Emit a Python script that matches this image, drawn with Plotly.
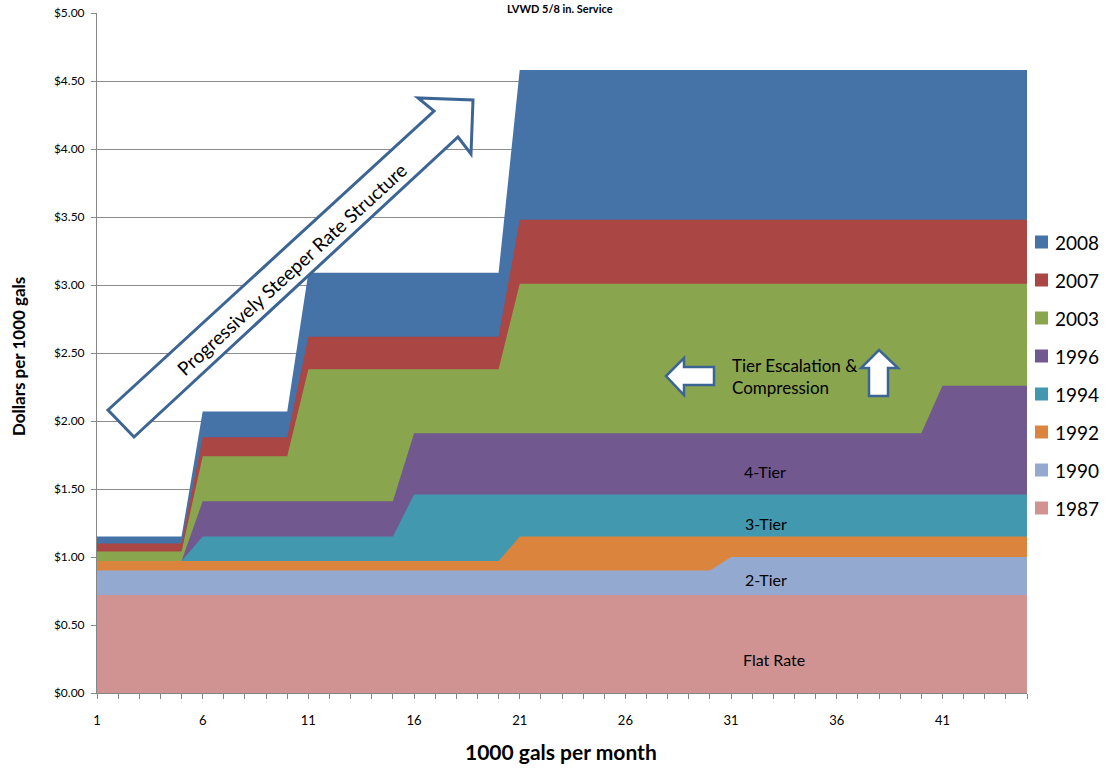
import plotly.graph_objects as go

# Usage in thousands of gallons per month
usage = list(range(1, 46))

# Rate schedules ($ per 1000 gals) by year for each usage step
rates_2008 = [1.15] * 5 + [2.07] * 5 + [3.09] * 10 + [4.58] * 25
rates_2007 = [1.10] * 5 + [1.88] * 5 + [2.62] * 10 + [3.48] * 25
rates_2003 = [1.04] * 5 + [1.74] * 5 + [2.38] * 10 + [3.01] * 25
rates_1996 = [0.97] * 5 + [1.41] * 10 + [1.91] * 25 + [2.26] * 5
rates_1994 = [0.97] * 5 + [1.15] * 10 + [1.46] * 30
rates_1992 = [0.97] * 20 + [1.15] * 25
rates_1990 = [0.90] * 30 + [1.00] * 15
rates_1987 = [0.72] * 45

years = ["2008", "2007", "2003", "1996", "1994", "1992", "1990", "1987"]
series = [rates_2008, rates_2007, rates_2003, rates_1996,
          rates_1994, rates_1992, rates_1990, rates_1987]
colors = ["#4572A7", "#AA4643", "#89A54E", "#71588F",
          "#4198AF", "#DB843D", "#93A9CF", "#D19392"]

x_tick_labels = [str(v) if (v - 1) % 5 == 0 else "" for v in usage]

FONT = "Lato"
W, H = 1107, 769
ML, MR, MT, MB = 97, 80, 13, 76
PW, PH = W - ML - MR, H - MT - MB


def px(x, y):
    """Pixel position -> paper coordinates."""
    return (x - ML) / PW, (H - MB - y) / PH


def path(points):
    pts = [px(x, y) for x, y in points]
    return "M " + " L ".join(f"{a:.5f},{b:.5f}" for a, b in pts) + " Z"


def label(text, x, y, size, xanchor="center", yanchor="middle", angle=0,
          align="center"):
    lx, ly = px(x, y)
    return dict(text=text, xref="paper", yref="paper", x=lx, y=ly,
                xanchor=xanchor, yanchor=yanchor, textangle=angle,
                align=align, showarrow=False, borderpad=0,
                font=dict(family=FONT, size=size, color="#000000"))


fig = go.Figure()

for name, vals, col in zip(years, series, colors):
    fig.add_trace(go.Scatter(
        x=usage, y=vals, name=name, mode="none",
        fill="tozeroy", fillcolor=col, showlegend=False,
        hoverinfo="x+y+name",
    ))

shapes = []
annotations = []

# Legend: colour squares with year labels
leg_y0 = 242
leg_step = 38.0
for i, (name, col) in enumerate(zip(years, colors)):
    cy = leg_y0 + i * leg_step
    x0, y0 = px(1035, cy - 6.5)
    x1, y1 = px(1048, cy + 6.5)
    shapes.append(dict(type="rect", xref="paper", yref="paper",
                       x0=x0, x1=x1, y0=y1, y1=y0,
                       fillcolor=col, line=dict(width=0), layer="above"))
    annotations.append(label(name, 1054, cy, 19, xanchor="left"))

OUTLINE = "#3D6594"

# Big diagonal arrow
shapes.append(dict(type="path", xref="paper", yref="paper", layer="above",
                   path=path([(108, 410), (434, 111), (418, 98), (473, 100),
                              (471, 154), (458, 137), (134, 437)]),
                   fillcolor="#FFFFFF", line=dict(color=OUTLINE, width=3)))
# Left-pointing arrow
shapes.append(dict(type="path", xref="paper", yref="paper", layer="above",
                   path=path([(666, 376), (684, 358), (684, 367), (714, 367),
                              (714, 385), (684, 385), (684, 395)]),
                   fillcolor="#FFFFFF", line=dict(color=OUTLINE, width=2.5)))
# Up-pointing arrow
shapes.append(dict(type="path", xref="paper", yref="paper", layer="above",
                   path=path([(879, 350), (898, 368), (888, 368), (888, 396),
                              (869, 396), (869, 368), (861, 368)]),
                   fillcolor="#FFFFFF", line=dict(color=OUTLINE, width=2.5)))

annotations.append(label("Progressively Steeper Rate Structure", 291, 269, 19,
                         angle=-42.5))
annotations.append(label("Tier Escalation &<br>Compression", 731, 376, 17,
                         xanchor="left", align="left"))

for text, cx, cy in [("4-Tier", 765, 471), ("3-Tier", 766, 523),
                     ("2-Tier", 766, 579), ("Flat Rate", 774, 659)]:
    annotations.append(label(text, cx, cy, 16))

# Chart title along the top edge
annotations.append(label("<b>LVWD 5/8 in. Service</b>", 560, 1, 11,
                         yanchor="top"))

# Axis titles
annotations.append(label("<b>Dollars per 1000 gals</b>", 18, 357, 17,
                         angle=-90))
annotations.append(label("<b>1000 gals per month</b>", 561, 752, 21))

fig.update_layout(
    width=W, height=H,
    margin=dict(l=ML, r=MR, t=MT, b=MB, pad=0, autoexpand=False),
    paper_bgcolor="#FFFFFF", plot_bgcolor="#FFFFFF",
    shapes=shapes, annotations=annotations,
    showlegend=False,
    font=dict(family=FONT, size=12, color="#000000"),
)

fig.update_xaxes(
    range=[1, 45], tickvals=usage, ticktext=x_tick_labels,
    ticks="outside", ticklen=5, tickcolor="#868686", tickwidth=1,
    showline=True, linecolor="#868686", linewidth=1, automargin=False,
    showgrid=False, zeroline=False, ticklabelstandoff=10,
    tickfont=dict(family=FONT, size=13, color="#000000"),
)
fig.update_yaxes(
    range=[0, 5], dtick=0.5, tick0=0, tickformat="$.2f",
    ticks="outside", ticklen=5, tickcolor="#868686", tickwidth=1,
    showline=True, linecolor="#868686", linewidth=1, automargin=False,
    showgrid=True, gridcolor="#8C8C8C", gridwidth=1, zeroline=False,
    ticklabelstandoff=4,
    tickfont=dict(family=FONT, size=12, color="#000000"),
)

fig.write_html("out.html")
